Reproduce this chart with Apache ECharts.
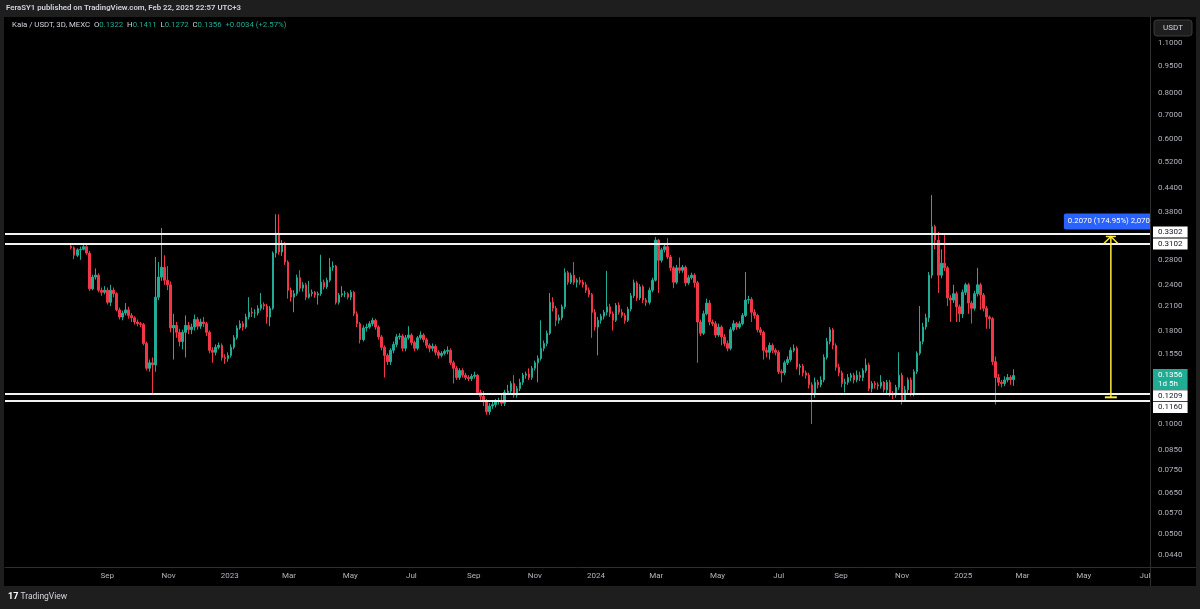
<!DOCTYPE html>
<html>
<head>
<meta charset="utf-8">
<title>Kaia / USDT, 3D, MEXC</title>
<script src="https://cdn.jsdelivr.net/npm/echarts@6/dist/echarts.min.js"></script>
<style>
  html, body { margin: 0; padding: 0; background: #1e1e1e; }
  #chart { width: 1200px; height: 609px; }
</style>
</head>
<body>
<div id="chart"></div>
<script>
// 3D candles, first bar opens 2022-07-27, last one 2025-02-21 (still open)
var firstBarUTC = [2022, 6, 27];
var firstOpen = 0.306;

var closes = [
  0.303, 0.289, 0.299, 0.300, 0.305, 0.293, 0.234, 0.252, 0.255, 0.232,
  0.229, 0.232, 0.215, 0.232, 0.227, 0.205, 0.196, 0.201, 0.205, 0.198,
  0.195, 0.190, 0.188, 0.187, 0.166, 0.142, 0.147, 0.145, 0.222, 0.252,
  0.268, 0.247, 0.240, 0.183, 0.186, 0.178, 0.168, 0.178, 0.186, 0.181,
  0.184, 0.193, 0.185, 0.190, 0.188, 0.178, 0.159, 0.157, 0.162, 0.164,
  0.152, 0.151, 0.154, 0.162, 0.172, 0.183, 0.188, 0.184, 0.196, 0.202,
  0.201, 0.201, 0.207, 0.212, 0.210, 0.196, 0.207, 0.293, 0.332, 0.295,
  0.310, 0.277, 0.232, 0.222, 0.227, 0.251, 0.235, 0.240, 0.222, 0.227,
  0.229, 0.225, 0.227, 0.244, 0.237, 0.247, 0.268, 0.270, 0.215, 0.225,
  0.227, 0.227, 0.222, 0.229, 0.200, 0.188, 0.170, 0.183, 0.184, 0.188,
  0.192, 0.184, 0.173, 0.162, 0.154, 0.148, 0.159, 0.165, 0.173, 0.174,
  0.161, 0.172, 0.175, 0.167, 0.161, 0.172, 0.175, 0.170, 0.164, 0.161,
  0.163, 0.157, 0.154, 0.156, 0.158, 0.159, 0.147, 0.142, 0.134, 0.140,
  0.136, 0.134, 0.133, 0.135, 0.136, 0.122, 0.119, 0.115, 0.108, 0.112,
  0.113, 0.115, 0.116, 0.114, 0.122, 0.123, 0.129, 0.120, 0.125, 0.130,
  0.136, 0.137, 0.134, 0.142, 0.147, 0.151, 0.161, 0.166, 0.177, 0.215,
  0.207, 0.192, 0.195, 0.209, 0.259, 0.244, 0.255, 0.244, 0.247, 0.244,
  0.240, 0.232, 0.226, 0.202, 0.184, 0.192, 0.197, 0.202, 0.209, 0.200,
  0.192, 0.211, 0.202, 0.198, 0.192, 0.206, 0.224, 0.243, 0.221, 0.237,
  0.218, 0.215, 0.232, 0.247, 0.318, 0.280, 0.299, 0.305, 0.286, 0.267,
  0.244, 0.267, 0.263, 0.268, 0.243, 0.251, 0.255, 0.243, 0.190, 0.177,
  0.200, 0.214, 0.190, 0.188, 0.175, 0.184, 0.173, 0.166, 0.161, 0.181,
  0.188, 0.184, 0.188, 0.198, 0.218, 0.219, 0.202, 0.198, 0.181, 0.178,
  0.159, 0.157, 0.164, 0.159, 0.157, 0.139, 0.138, 0.147, 0.150, 0.159,
  0.161, 0.143, 0.144, 0.138, 0.136, 0.128, 0.121, 0.130, 0.128, 0.132,
  0.152, 0.168, 0.181, 0.164, 0.143, 0.138, 0.129, 0.130, 0.134, 0.136,
  0.132, 0.136, 0.134, 0.140, 0.145, 0.125, 0.129, 0.128, 0.127, 0.130,
  0.124, 0.130, 0.121, 0.120, 0.126, 0.136, 0.116, 0.124, 0.132, 0.121,
  0.139, 0.156, 0.168, 0.184, 0.195, 0.255, 0.346, 0.318, 0.255, 0.275,
  0.267, 0.221, 0.218, 0.227, 0.209, 0.200, 0.229, 0.240, 0.214, 0.207,
  0.227, 0.240, 0.225, 0.207, 0.196, 0.194, 0.148, 0.134, 0.130, 0.129,
  0.132, 0.134, 0.1322, 0.1356
];

var highs = [
  0.312, 0.306, 0.302, 0.305, 0.312, 0.311, 0.297, 0.256, 0.266, 0.258,
  0.236, 0.238, 0.236, 0.240, 0.236, 0.229, 0.208, 0.204, 0.214, 0.209,
  0.201, 0.197, 0.193, 0.190, 0.189, 0.168, 0.150, 0.152, 0.286, 0.277,
  0.343, 0.289, 0.270, 0.245, 0.200, 0.190, 0.182, 0.181, 0.198, 0.190,
  0.188, 0.199, 0.196, 0.194, 0.196, 0.190, 0.180, 0.162, 0.165, 0.167,
  0.166, 0.155, 0.157, 0.165, 0.175, 0.186, 0.192, 0.191, 0.200, 0.222,
  0.208, 0.206, 0.211, 0.228, 0.215, 0.213, 0.210, 0.296, 0.374, 0.374,
  0.318, 0.314, 0.280, 0.236, 0.232, 0.256, 0.263, 0.244, 0.243, 0.246,
  0.233, 0.231, 0.230, 0.290, 0.248, 0.251, 0.284, 0.278, 0.272, 0.228,
  0.238, 0.231, 0.229, 0.232, 0.231, 0.203, 0.190, 0.186, 0.188, 0.191,
  0.195, 0.194, 0.186, 0.175, 0.164, 0.156, 0.161, 0.168, 0.176, 0.177,
  0.176, 0.175, 0.185, 0.177, 0.169, 0.174, 0.179, 0.177, 0.172, 0.166,
  0.166, 0.165, 0.159, 0.158, 0.160, 0.163, 0.161, 0.149, 0.144, 0.142,
  0.142, 0.138, 0.136, 0.137, 0.139, 0.137, 0.124, 0.123, 0.117, 0.114,
  0.115, 0.117, 0.118, 0.120, 0.124, 0.128, 0.131, 0.136, 0.127, 0.133,
  0.138, 0.139, 0.142, 0.144, 0.149, 0.154, 0.192, 0.169, 0.180, 0.228,
  0.222, 0.210, 0.199, 0.212, 0.266, 0.262, 0.259, 0.277, 0.250, 0.252,
  0.248, 0.244, 0.236, 0.228, 0.206, 0.196, 0.200, 0.205, 0.262, 0.213,
  0.203, 0.214, 0.215, 0.206, 0.201, 0.209, 0.228, 0.248, 0.246, 0.241,
  0.240, 0.221, 0.236, 0.251, 0.324, 0.320, 0.303, 0.310, 0.322, 0.290,
  0.270, 0.272, 0.285, 0.272, 0.271, 0.255, 0.259, 0.258, 0.246, 0.193,
  0.204, 0.220, 0.218, 0.193, 0.191, 0.188, 0.186, 0.176, 0.169, 0.184,
  0.192, 0.190, 0.191, 0.201, 0.260, 0.224, 0.222, 0.206, 0.200, 0.184,
  0.180, 0.162, 0.167, 0.166, 0.161, 0.159, 0.141, 0.149, 0.153, 0.162,
  0.165, 0.163, 0.146, 0.146, 0.140, 0.138, 0.130, 0.134, 0.132, 0.135,
  0.155, 0.172, 0.184, 0.183, 0.166, 0.146, 0.140, 0.133, 0.137, 0.138,
  0.138, 0.140, 0.139, 0.142, 0.151, 0.147, 0.131, 0.131, 0.130, 0.136,
  0.131, 0.132, 0.132, 0.123, 0.128, 0.157, 0.138, 0.127, 0.134, 0.134,
  0.141, 0.158, 0.210, 0.189, 0.200, 0.260, 0.422, 0.350, 0.335, 0.300,
  0.330, 0.270, 0.225, 0.240, 0.230, 0.212, 0.233, 0.243, 0.243, 0.217,
  0.231, 0.267, 0.243, 0.228, 0.210, 0.198, 0.196, 0.153, 0.137, 0.132,
  0.135, 0.137, 0.136, 0.1411
];

var lows = [
  0.300, 0.282, 0.286, 0.281, 0.298, 0.290, 0.231, 0.232, 0.248, 0.229,
  0.224, 0.226, 0.212, 0.210, 0.222, 0.203, 0.193, 0.192, 0.198, 0.194,
  0.190, 0.187, 0.185, 0.184, 0.164, 0.140, 0.139, 0.121, 0.139, 0.218,
  0.246, 0.240, 0.232, 0.178, 0.150, 0.172, 0.163, 0.160, 0.152, 0.176,
  0.176, 0.180, 0.181, 0.182, 0.184, 0.174, 0.156, 0.147, 0.154, 0.160,
  0.149, 0.146, 0.148, 0.152, 0.160, 0.170, 0.181, 0.180, 0.182, 0.193,
  0.196, 0.195, 0.198, 0.204, 0.205, 0.188, 0.185, 0.205, 0.285, 0.290,
  0.288, 0.272, 0.220, 0.216, 0.202, 0.224, 0.230, 0.230, 0.218, 0.220,
  0.223, 0.221, 0.212, 0.224, 0.233, 0.234, 0.244, 0.262, 0.212, 0.212,
  0.222, 0.222, 0.219, 0.218, 0.197, 0.184, 0.166, 0.168, 0.179, 0.182,
  0.185, 0.181, 0.170, 0.159, 0.134, 0.145, 0.145, 0.156, 0.162, 0.170,
  0.158, 0.158, 0.170, 0.164, 0.158, 0.159, 0.170, 0.167, 0.161, 0.157,
  0.158, 0.154, 0.151, 0.152, 0.154, 0.155, 0.145, 0.129, 0.132, 0.132,
  0.134, 0.132, 0.131, 0.131, 0.133, 0.120, 0.116, 0.112, 0.106, 0.106,
  0.110, 0.111, 0.113, 0.112, 0.112, 0.120, 0.121, 0.118, 0.118, 0.123,
  0.128, 0.133, 0.132, 0.132, 0.140, 0.130, 0.149, 0.158, 0.163, 0.175,
  0.203, 0.185, 0.188, 0.192, 0.206, 0.240, 0.241, 0.240, 0.236, 0.240,
  0.236, 0.228, 0.222, 0.172, 0.180, 0.154, 0.188, 0.193, 0.198, 0.196,
  0.180, 0.190, 0.199, 0.195, 0.188, 0.190, 0.203, 0.221, 0.217, 0.218,
  0.214, 0.210, 0.212, 0.229, 0.245, 0.228, 0.276, 0.294, 0.282, 0.262,
  0.235, 0.241, 0.258, 0.259, 0.238, 0.240, 0.248, 0.236, 0.147, 0.174,
  0.175, 0.198, 0.186, 0.185, 0.172, 0.173, 0.164, 0.163, 0.158, 0.159,
  0.179, 0.181, 0.182, 0.186, 0.196, 0.213, 0.190, 0.194, 0.178, 0.175,
  0.150, 0.152, 0.150, 0.156, 0.154, 0.137, 0.130, 0.136, 0.145, 0.148,
  0.157, 0.141, 0.136, 0.135, 0.133, 0.125, 0.100, 0.118, 0.125, 0.126,
  0.130, 0.150, 0.165, 0.160, 0.140, 0.135, 0.126, 0.122, 0.128, 0.131,
  0.129, 0.130, 0.131, 0.131, 0.138, 0.123, 0.122, 0.125, 0.124, 0.125,
  0.122, 0.121, 0.119, 0.117, 0.118, 0.124, 0.113, 0.115, 0.121, 0.119,
  0.119, 0.137, 0.154, 0.165, 0.181, 0.190, 0.250, 0.300, 0.228, 0.250,
  0.262, 0.210, 0.190, 0.214, 0.190, 0.190, 0.195, 0.225, 0.200, 0.188,
  0.204, 0.223, 0.205, 0.203, 0.182, 0.182, 0.145, 0.113, 0.127, 0.126,
  0.127, 0.130, 0.128, 0.1272
];

// price scale labels (log scale)
var priceTicks = [1.1, 0.95, 0.8, 0.7, 0.6, 0.52, 0.44, 0.38, 0.28, 0.24, 0.21,
  0.18, 0.155, 0.1, 0.085, 0.075, 0.065, 0.057, 0.05, 0.044];
var monthTicks = ['2022-09-01', '2022-11-01', '2023-01-01', '2023-03-01', '2023-05-01',
  '2023-07-01', '2023-09-01', '2023-11-01', '2024-01-01', '2024-03-01', '2024-05-01',
  '2024-07-01', '2024-09-01', '2024-11-01', '2025-01-01', '2025-03-01', '2025-05-01',
  '2025-07-01'];
var monthNames = ['Jan', 'Feb', 'Mar', 'Apr', 'May', 'Jun', 'Jul', 'Aug', 'Sep', 'Oct', 'Nov', 'Dec'];

// horizontal levels drawn on the chart
var levels = [0.3302, 0.3102, 0.1209, 0.1160];
var levelLabelShift = [-2, 0, 2, 7];

// price range measure tool
var measureDate = '2025-05-28';
var measureRange = [0.1183, 0.3253];
var measureText = '0.2070 (174.95%) 2,070';
var barCountdown = '1d 5h';

var UP = '#22ab94', DOWN = '#f23645';
var FONT = 'Roboto, "Noto Sans", sans-serif';

function utc(s) {
  var p = s.split('-');
  return Date.UTC(+p[0], +p[1] - 1, +p[2]);
}

// 1. build candle rows [time, open, close, low, high]
var rows = [];
var t0 = Date.UTC(firstBarUTC[0], firstBarUTC[1], firstBarUTC[2]);
for (var i = 0; i < closes.length; i++) {
  var open = i === 0 ? firstOpen : closes[i - 1];
  rows.push([t0 + i * 3 * 86400000, open, closes[i], lows[i], highs[i]]);
}
var last = rows[rows.length - 1];
var chg = last[2] - closes[closes.length - 2];

var chart = echarts.init(document.getElementById('chart'));

var levelLines = levels.map(function (v, k) {
  return { yAxis: v, label: { offset: [0, levelLabelShift[k]] } };
});
// current price tag on the scale, no line
levelLines.push({
  yAxis: last[2],
  lineStyle: { color: 'rgba(0,0,0,0)', width: 0 },
  label: {
    formatter: last[2].toFixed(4) + '\n' + barCountdown,
    backgroundColor: UP, color: '#ffffff', lineHeight: 9, padding: [2, 5, 1, 5],
    offset: [0, 4]
  }
});

var option = {
  backgroundColor: '#1e1e1e',
  animation: false,
  textStyle: { fontFamily: FONT },
  grid: { left: 5, right: 50, top: 17, bottom: 42 },
  // time runs on a plain value axis in ms, labelled at month starts
  xAxis: {
    type: 'value',
    min: utc('2022-05-22'),
    max: utc('2025-07-06'),
    axisLine: { show: true, lineStyle: { color: '#2e2e2e', width: 1 } },
    axisTick: { show: false },
    splitLine: { show: false },
    axisLabel: {
      customValues: monthTicks.map(utc),
      color: '#b2b5be', fontSize: 8, margin: 5,
      formatter: function (v) {
        var d = new Date(v);
        return d.getUTCMonth() === 0 ? String(d.getUTCFullYear()) : monthNames[d.getUTCMonth()];
      }
    }
  },
  yAxis: {
    type: 'log',
    position: 'right',
    min: 0.0407,
    max: 1.293,
    axisLine: { show: true, lineStyle: { color: '#2e2e2e', width: 1 } },
    axisTick: { show: false },
    splitLine: { show: false },
    axisLabel: {
      customValues: priceTicks,
      color: '#b2b5be', fontSize: 8, margin: 8,
      formatter: function (v) { return Number(v).toFixed(4); }
    }
  },
  series: [
    {
      type: 'candlestick',
      data: rows,
      encode: { x: 0, y: [1, 2, 3, 4] },
      barWidth: 2,
      itemStyle: {
        color: UP, color0: DOWN,
        borderColor: UP, borderColor0: DOWN,
        borderWidth: 1
      },
      markLine: {
        silent: true,
        symbol: 'none',
        precision: 4,
        lineStyle: { color: '#f2f2f2', width: 2.2, type: 'solid' },
        label: {
          show: true, position: 'end', distance: 3,
          formatter: function (p) { return Number(p.value).toFixed(4); },
          backgroundColor: '#ffffff', color: '#131722',
          fontSize: 8, fontFamily: FONT, padding: [2, 5, 1, 5]
        },
        data: levelLines
      }
    },
    {
      type: 'custom',
      clip: true,
      data: [[utc(measureDate), measureRange[0], measureRange[1]]],
      encode: { x: 0, y: [1, 2] },
      renderItem: function (params, api) {
        var lo = api.coord([api.value(0), api.value(1)]);
        var hi = api.coord([api.value(0), api.value(2)]);
        var x = lo[0];
        var yel = '#ffeb3b';
        return {
          type: 'group',
          children: [
            { type: 'line', shape: { x1: x, y1: lo[1], x2: x, y2: hi[1] }, style: { stroke: yel, lineWidth: 1.5 } },
            { type: 'polyline', shape: { points: [[x - 7, hi[1] + 7], [x, hi[1]], [x + 7, hi[1] + 7]] },
              style: { stroke: yel, fill: null, lineWidth: 1.5 } },
            { type: 'line', shape: { x1: x - 5, y1: hi[1], x2: x + 5, y2: hi[1] }, style: { stroke: yel, lineWidth: 1.5 } },
            { type: 'line', shape: { x1: x - 6, y1: lo[1], x2: x + 6, y2: lo[1] }, style: { stroke: yel, lineWidth: 2 } },
            { type: 'rect', shape: { x: x - 47, y: hi[1] - 23, width: 96, height: 16, r: 2 }, style: { fill: '#2962ff' } },
            { type: 'text', x: x - 43, y: hi[1] - 15,
              style: { text: measureText, fill: '#ffffff', font: '7.8px ' + FONT, verticalAlign: 'middle' } }
          ]
        };
      },
      z: 5
    }
  ],
  graphic: [
    { type: 'rect', z: -10, shape: { x: 4, y: 17, width: 1192, height: 569 }, style: { fill: '#000000' } },
    { type: 'line', z: 1, shape: { x1: 1150.5, y1: 567, x2: 1150.5, y2: 586 }, style: { stroke: '#2e2e2e' } },
    { type: 'line', z: 1, shape: { x1: 1150, y1: 567.5, x2: 1196, y2: 567.5 }, style: { stroke: '#2e2e2e' } },
    { type: 'text', left: 6, top: 4,
      style: { text: 'FeraSY1 published on TradingView.com, Feb 22, 2025 22:57 UTC+3',
               fill: '#d1d4dc', font: '600 7.8px ' + FONT } },
    { type: 'text', left: 12, top: 21,
      style: {
        text: '{w|Kaia / USDT, 3D, MEXC  O}{v|' + last[1].toFixed(4) + '}{w|  H}{v|' + last[4].toFixed(4) +
              '}{w|  L}{v|' + last[3].toFixed(4) + '}{w|  C}{v|' + last[2].toFixed(4) + '}{v|  +' +
              chg.toFixed(4) + ' (+' + (chg / last[1] * 100).toFixed(2) + '%)}',
        font: '7.8px ' + FONT,
        rich: { w: { fill: '#d1d4dc', font: '7.8px ' + FONT }, v: { fill: UP, font: '7.8px ' + FONT } }
      } },
    { type: 'rect', shape: { x: 1154, y: 20, width: 38, height: 16, r: 3 },
      style: { fill: '#1e1e1e', stroke: '#3a3a3a' } },
    { type: 'text', x: 1173, y: 28,
      style: { text: 'USDT', fill: '#d1d4dc', font: '8px ' + FONT, align: 'center', verticalAlign: 'middle' } },
    { type: 'text', left: 8, top: 592,
      style: { text: '{b|17} TradingView', fill: '#d1d4dc', font: '8.5px ' + FONT,
               rich: { b: { fill: '#ffffff', font: 'bold 9px ' + FONT } } } }
  ]
};

chart.setOption(option);
</script>
</body>
</html>
